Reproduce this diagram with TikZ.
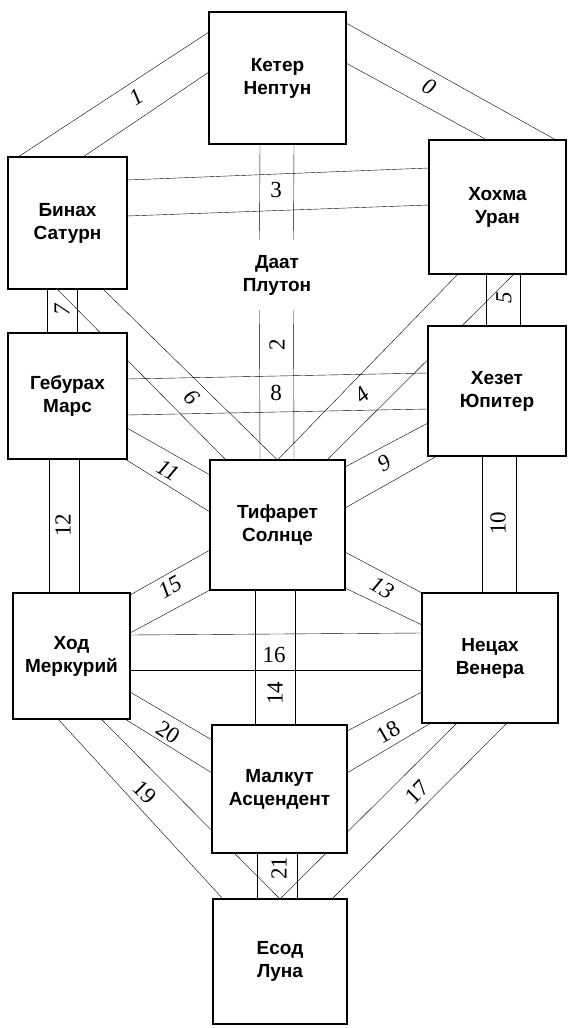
\documentclass[tikz,border=0pt]{standalone}
\usepackage{fontspec}
\setmainfont{Liberation Serif}
\newfontfamily\sefirafont{Liberation Sans}
\usetikzlibrary{backgrounds}
\begin{document}
\begin{tikzpicture}[x=1pt,y=-1pt,
  sefira/.style={draw, line width=2.6pt, fill=white, inner sep=0pt, outer sep=0pt, align=center,
    font=\sefirafont\bfseries\fontsize{19}{23}\selectfont},
  rib/.style={line width=2.3pt},
  num/.style={inner sep=0pt, font=\fontsize{23}{23}\selectfont},
  inum/.style={inner sep=0pt, font=\itshape\fontsize{23}{23}\selectfont}]
\useasboundingbox (0,0) rectangle (568,1028);
% sefirot
\node[sefira, minimum width=137pt, minimum height=132pt] (keter)   at (277.5,78)  {Кетер\\Нептун};
\node[sefira, minimum width=119pt, minimum height=132pt] (binah)   at (67.5,223)  {Бинах\\Сатурн};
\node[sefira, minimum width=137pt, minimum height=134pt] (chokmah) at (497.5,207) {Хохма\\Уран};
\node[align=center, inner sep=0pt, minimum height=70pt, font=\sefirafont\bfseries\fontsize{19}{23}\selectfont] (daat) at (277,275) {Даат\\Плутон};
\node[sefira, minimum width=119pt, minimum height=126pt] (geburah) at (67.5,396)  {Гебурах\\Марс};
\node[sefira, minimum width=138pt, minimum height=130pt] (chesed)  at (497,391)   {Хезет\\Юпитер};
\node[sefira, minimum width=135pt, minimum height=130pt] (tiph)    at (277.5,525) {Тифарет\\Солнце};
\node[sefira, minimum width=117pt, minimum height=126pt] (hod)     at (71.5,656)  {Ход\\Меркурий};
\node[sefira, minimum width=136pt, minimum height=130pt] (netzach) at (490,658)   {Нецах\\Венера};
\node[sefira, minimum width=135pt, minimum height=128pt] (malkuth) at (279.5,789) {Малкут\\Асцендент};
\node[sefira, minimum width=134pt, minimum height=125pt] (yesod)   at (280,961.5) {Есод\\Луна};
\begin{scope}[on background layer, rib]
% 0
\draw ([shift={(0,11)}]keter.north east) -- ([shift={(127,0)}]chokmah.north west);
\draw ([shift={(0,51)}]keter.north east) -- ([shift={(58,0)}]chokmah.north west);
% 1
\draw ([shift={(0,20)}]keter.north west) -- ([shift={(10,0)}]binah.north west);
\draw ([shift={(0,60)}]keter.north west) -- ([shift={(75,0)}]binah.north west);
% 2
\draw ([shift={(-17.5,0)}]keter.south) -- ([shift={(-17.5,0)}]daat.north);
\draw ([shift={(16.5,0)}]keter.south) -- ([shift={(16.5,0)}]daat.north);
\draw ([shift={(-17.5,0)}]daat.south) -- ([shift={(-17.5,0)}]tiph.north);
\draw ([shift={(16.5,0)}]daat.south) -- ([shift={(16.5,0)}]tiph.north);
% 3
\draw ([shift={(0,23)}]binah.north east) -- ([shift={(0,28)}]chokmah.north west);
\draw ([shift={(0,59)}]binah.north east) -- ([shift={(0,65)}]chokmah.north west);
% 4
\draw ([shift={(29,0)}]chokmah.south west) -- (tiph.north);
\draw ([shift={(85,0)}]chokmah.south west) -- ([shift={(117,0)}]tiph.north west);
% 5
\draw ([shift={(57,0)}]chokmah.south west) -- ([shift={(58,0)}]chesed.north west);
\draw ([shift={(91,0)}]chokmah.south west) -- ([shift={(92,0)}]chesed.north west);
% 6
\draw ([shift={(95,0)}]binah.south west) -- (tiph.north);
\draw ([shift={(49,0)}]binah.south west) -- ([shift={(16,0)}]tiph.north west);
% 7
\draw ([shift={(39,0)}]binah.south west) -- ([shift={(39,0)}]geburah.north west);
\draw ([shift={(69,0)}]binah.south west) -- ([shift={(69,0)}]geburah.north west);
% 8
\draw ([shift={(0,46)}]geburah.north east) -- ([shift={(0,47)}]chesed.north west);
\draw ([shift={(0,82)}]geburah.north east) -- ([shift={(0,83)}]chesed.north west);
% 9
\draw ([shift={(0,97)}]chesed.north west) -- ([shift={(0,7)}]tiph.north east);
\draw ([shift={(9,0)}]chesed.south west) -- ([shift={(0,48)}]tiph.north east);
% 10
\draw ([shift={(54,0)}]chesed.south west) -- ([shift={(60,0)}]netzach.north west);
\draw ([shift={(88,0)}]chesed.south west) -- ([shift={(94,0)}]netzach.north west);
% 11
\draw ([shift={(0,95)}]geburah.north east) -- ([shift={(0,15)}]tiph.north west);
\draw ([shift={(-2,0)}]geburah.south east) -- ([shift={(0,52)}]tiph.north west);
% 12
\draw ([shift={(41,0)}]geburah.south west) -- ([shift={(36,0)}]hod.north west);
\draw ([shift={(71,0)}]geburah.south west) -- ([shift={(66,0)}]hod.north west);
% 13
\draw ([shift={(0,92)}]tiph.north east) -- (netzach.north west);
\draw ([shift={(0,-2)}]tiph.south east) -- ([shift={(0,32)}]netzach.north west);
% 14
\draw ([shift={(45,0)}]tiph.south west) -- ([shift={(43,0)}]malkuth.north west);
\draw ([shift={(85,0)}]tiph.south west) -- ([shift={(83,0)}]malkuth.north west);
% 15
\draw ([shift={(0,90)}]tiph.north west) -- ([shift={(0,2)}]hod.north east);
\draw (tiph.south west) -- ([shift={(0,40)}]hod.north east);
% 16
\draw ([shift={(0,42)}]hod.north east) -- ([shift={(0,40)}]netzach.north west);
\draw ([shift={(0,77)}]hod.north east) -- ([shift={(0,77)}]netzach.north west);
% 17
\draw ([shift={(85,0)}]netzach.south west) -- ([shift={(119,0)}]yesod.north west);
\draw ([shift={(35,0)}]netzach.south west) -- (yesod.north);
% 18
\draw ([shift={(0,99)}]netzach.north west) -- ([shift={(0,6)}]malkuth.north east);
\draw ([shift={(9,0)}]netzach.south west) -- ([shift={(0,48)}]malkuth.north east);
% 19
\draw ([shift={(45,0)}]hod.south west) -- ([shift={(10,0)}]yesod.north west);
\draw ([shift={(88,0)}]hod.south west) -- (yesod.north);
% 20
\draw ([shift={(0,99)}]hod.north east) -- ([shift={(0,15)}]malkuth.north west);
\draw ([shift={(-5,0)}]hod.south east) -- ([shift={(0,48)}]malkuth.north west);
% 21
\draw ([shift={(45,0)}]malkuth.south west) -- ([shift={(44,0)}]yesod.north west);
\draw ([shift={(85,0)}]malkuth.south west) -- ([shift={(84,0)}]yesod.north west);
\end{scope}
% path numbers
\node[inum, rotate=-29] (l0)  at (429,87)  {0};
\node[inum, rotate=33]  (l1)  at (136,97)  {1};
\node[num, rotate=90]   (l2)  at (277,345) {2};
\node[num]              (l3)  at (276,190) {3};
\node[inum, rotate=40]  (l4)  at (362,395) {4};
\node[inum, rotate=90]  (l5)  at (504,298) {5};
\node[inum, rotate=-45] (l6)  at (192,397) {6};
\node[inum, rotate=90]  (l7)  at (62,310)  {7};
\node[num]              (l8)  at (276,393) {8};
\node[inum, rotate=30]  (l9)  at (384,463) {9};
\node[num, rotate=90]   (l10) at (498,523) {10};
\node[inum, rotate=-30] (l11) at (168,470) {11};
\node[num, rotate=90]   (l12) at (63,525)  {12};
\node[inum, rotate=-30] (l13) at (382,588) {13};
\node[num, rotate=90]   (l14) at (275,693) {14};
\node[inum, rotate=30]  (l15) at (170,587) {15};
\node[num]              (l16) at (274,655) {16};
\node[num, rotate=45]   (l17) at (417,792) {17};
\node[num, rotate=30]   (l18) at (388,732) {18};
\node[num, rotate=-45]  (l19) at (145,792) {19};
\node[num, rotate=-33]  (l20) at (168,732) {20};
\node[num, rotate=90]   (l21) at (279,868) {21};
\end{tikzpicture}
\end{document}
